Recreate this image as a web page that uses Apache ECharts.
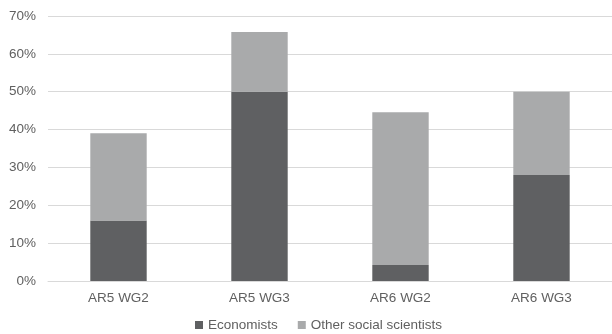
<!doctype html>
<html>
<head>
<meta charset="UTF-8">
<title></title>
<script src="https://cdn.jsdelivr.net/npm/echarts@6/dist/echarts.min.js"></script>
<style>
  html, body { margin: 0; padding: 0; background: #fff; }
  #main { width: 612px; height: 334px; }
</style>
</head>
<body>
<div id="main"></div>
<script>
var categories = ['AR5 WG2', 'AR5 WG3', 'AR6 WG2', 'AR6 WG3'];
var economists = [16, 50, 4.2, 28];
var otherSocial = [23, 15.8, 40.4, 22];
var yTicks = [0, 10, 20, 30, 40, 50, 60, 70];

var chart = echarts.init(document.getElementById('main'));
var labelFont = { color: '#606060', fontSize: 13.5, fontFamily: 'Liberation Sans, Arial, sans-serif' };

chart.setOption({
  animation: false,
  color: ['#5f6062', '#a9aaab'],
  grid: { left: 48, right: -4, top: 16, bottom: 53 },
  legend: {
    bottom: -3,
    left: 190,
    itemWidth: 8,
    itemHeight: 8,
    itemGap: 20,
    icon: 'rect',
    textStyle: labelFont,
    data: ['Economists', 'Other social scientists']
  },
  xAxis: {
    type: 'category',
    data: categories,
    axisTick: { show: false },
    axisLine: { lineStyle: { color: '#d9d9d9' } },
    axisLabel: Object.assign({ margin: 10 }, labelFont)
  },
  yAxis: {
    type: 'value',
    min: yTicks[0],
    max: yTicks[yTicks.length - 1],
    interval: 10,
    axisLine: { show: false },
    axisTick: { show: false },
    splitLine: { lineStyle: { color: '#d9d9d9' } },
    axisLabel: Object.assign({ margin: 12, formatter: '{value}%' }, labelFont)
  },
  series: [
    {
      name: 'Economists',
      type: 'bar',
      stack: 'total',
      barWidth: '40%',
      data: economists
    },
    {
      name: 'Other social scientists',
      type: 'bar',
      stack: 'total',
      barWidth: '40%',
      data: otherSocial
    }
  ]
});
</script>
</body>
</html>
